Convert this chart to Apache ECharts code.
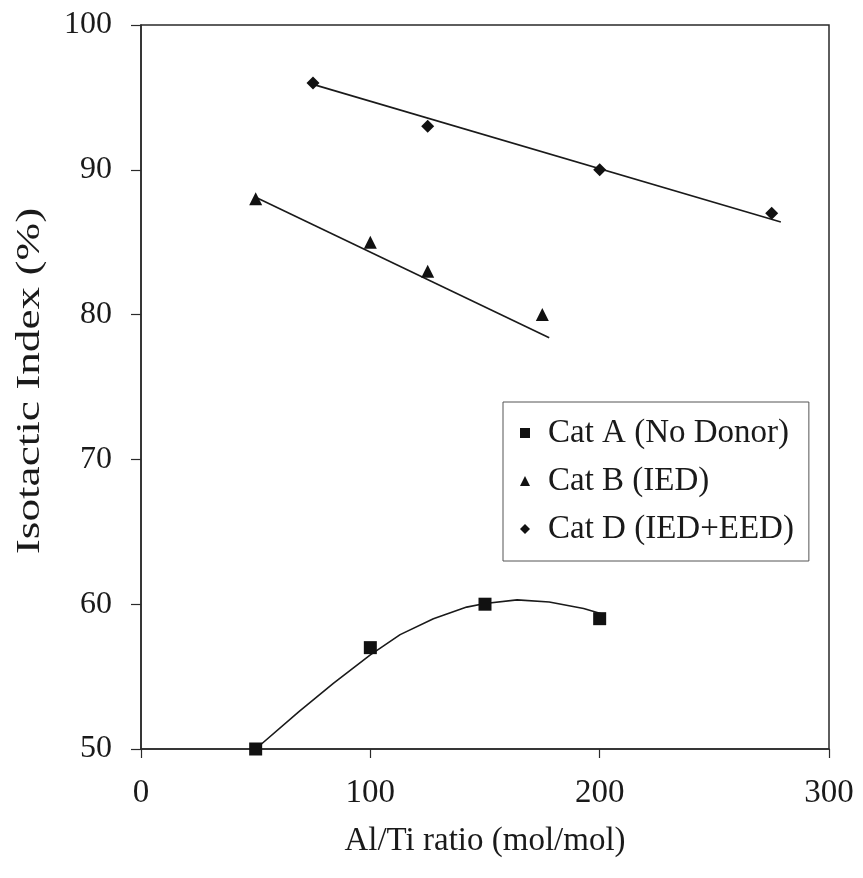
<!DOCTYPE html>
<html>
<head>
<meta charset="utf-8">
<script src="https://cdn.jsdelivr.net/npm/echarts@6/dist/echarts.min.js"></script>
<style>
html,body{margin:0;padding:0;background:#fff;}
#chart{width:863px;height:878px;}
</style>
</head>
<body>
<div id="chart"></div>
<script>
// Measured data points
const seriesNames = ['Cat A (No Donor)', 'Cat B (IED)', 'Cat D (IED+EED)'];
const catAX = [50, 100, 150, 200];
const catAY = [50, 57, 60, 59];
const catBX = [50, 100, 125, 175];
const catBY = [88, 85, 83, 80];
const catDX = [75, 125, 200, 275];
const catDY = [96, 93, 90, 87];
// Trend lines
const trendAX = [50, 69, 84, 100, 113, 127.5, 142, 150, 164, 178, 193, 201.5];
const trendAY = [50, 52.6, 54.55, 56.5, 57.9, 59.0, 59.8, 60.05, 60.3, 60.15, 59.7, 59.3];
const trendBX = [50, 178];
const trendBY = [88.1, 78.4];
const trendDX = [75, 279];
const trendDY = [95.9, 86.4];
// Axes
const xTicks = [0, 100, 200, 300];
const yTicks = [50, 60, 70, 80, 90, 100];
const xTitle = 'Al/Ti ratio (mol/mol)';
const yTitle = 'Isotactic Index (%)';

const zip = (xs, ys) => xs.map((x, i) => [x, ys[i]]);
const FONT = 'Liberation Serif';
const INK = '#1a1a1a';

const chart = echarts.init(document.getElementById('chart'));
const trendStyle = { type: 'line', showSymbol: false, symbol: 'none', silent: true,
  lineStyle: { color: '#1a1a1a', width: 1.6, join: 'round' }, z: 2 };
const markStyle = { color: '#111', opacity: 1 };
chart.setOption({
  backgroundColor: '#fff',
  animation: false,
  grid: { left: 141, top: 25, right: 34, bottom: 129, show: true,
          borderColor: '#2a2a2a', borderWidth: 1.5, backgroundColor: 'transparent' },
  xAxis: {
    type: 'value', min: xTicks[0], max: xTicks[xTicks.length - 1], interval: 100,
    name: xTitle, nameLocation: 'middle', nameGap: 76,
    nameTextStyle: { fontFamily: FONT, fontSize: 33, color: INK },
    axisLine: { show: true, onZero: false, lineStyle: { color: '#2a2a2a', width: 1.5 } },
    axisTick: { show: true, inside: false, length: 9, lineStyle: { color: '#2a2a2a', width: 1.2 } },
    axisLabel: { fontFamily: FONT, fontSize: 33, color: INK, margin: 28 },
    splitLine: { show: false }
  },
  yAxis: {
    type: 'value', min: yTicks[0], max: yTicks[yTicks.length - 1], interval: 10,
    axisLine: { show: true, onZero: false, lineStyle: { color: '#2a2a2a', width: 1.5 } },
    axisTick: { show: true, inside: false, length: 10, lineStyle: { color: '#2a2a2a', width: 1.2 } },
    axisLabel: { fontFamily: FONT, fontSize: 32, color: INK, margin: 29 },
    splitLine: { show: false }
  },
  graphic: [{
    type: 'text', x: 30, y: 381, rotation: Math.PI / 2, scaleX: 1.37, scaleY: 1,
    style: { text: yTitle, font: '33px "Liberation Serif"', fill: INK,
             textAlign: 'center', textVerticalAlign: 'middle' }
  }],
  legend: {
    data: seriesNames, orient: 'vertical', left: 503, top: 402,
    padding: [13, 15, 14, 17], itemGap: 12, itemWidth: 10, itemHeight: 10,
    borderColor: '#555', borderWidth: 1, backgroundColor: '#fff',
    itemStyle: { opacity: 1 },
    textStyle: { fontFamily: FONT, fontSize: 33, color: INK, lineHeight: 36, padding: [0, 0, 0, 13] }
  },
  series: [
    Object.assign({ name: 'trendA', data: zip(trendAX, trendAY), smooth: false }, trendStyle),
    Object.assign({ name: 'trendB', data: zip(trendBX, trendBY) }, trendStyle),
    Object.assign({ name: 'trendD', data: zip(trendDX, trendDY) }, trendStyle),
    { name: seriesNames[0], type: 'scatter', symbol: 'rect', symbolSize: 13,
      itemStyle: markStyle, data: zip(catAX, catAY), z: 3 },
    { name: seriesNames[1], type: 'scatter', symbol: 'triangle', symbolSize: 13,
      itemStyle: markStyle, data: zip(catBX, catBY), z: 3 },
    { name: seriesNames[2], type: 'scatter', symbol: 'diamond', symbolSize: 13,
      itemStyle: markStyle, data: zip(catDX, catDY), z: 3 }
  ]
});
</script>
</body>
</html>
